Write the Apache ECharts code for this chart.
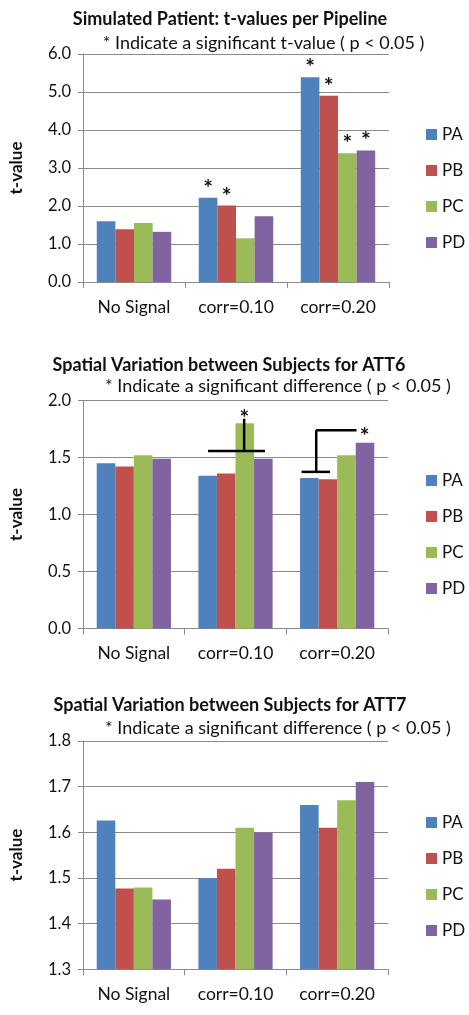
<!DOCTYPE html>
<html>
<head>
<meta charset="utf-8">
<script src="https://cdn.jsdelivr.net/npm/echarts@6/dist/echarts.min.js"></script>
<style>
html,body{margin:0;padding:0;background:#fff;}
#c{width:469px;height:1015px;}
</style>
</head>
<body>
<div id="c"></div>
<script>
const categories = ['No Signal', 'corr=0.10', 'corr=0.20'];
const pipelines = ['PA', 'PB', 'PC', 'PD'];
const colors = ['#4F81BD', '#C0504D', '#9BBB59', '#8064A2'];

// Chart 1: Simulated Patient t-values
const c1PA = [1.60, 2.22, 5.39];
const c1PB = [1.39, 2.01, 4.90];
const c1PC = [1.55, 1.15, 3.39];
const c1PD = [1.32, 1.73, 3.46];
// significance flags (star above bar)
const c1SigPA = [0, 1, 1];
const c1SigPB = [0, 1, 1];
const c1SigPC = [0, 0, 1];
const c1SigPD = [0, 0, 1];
const c1Ticks = ['0.0', '1.0', '2.0', '3.0', '4.0', '5.0', '6.0'];

// Chart 2: ATT6
const c2PA = [1.45, 1.34, 1.32];
const c2PB = [1.42, 1.36, 1.31];
const c2PC = [1.52, 1.80, 1.52];
const c2PD = [1.49, 1.49, 1.63];
const c2Ticks = ['0.0', '0.5', '1.0', '1.5', '2.0'];
// significance bracket segments: [category, offset1, value1, offset2, value2]
const c2Segments = [
  [1, -0.27, 1.556, 0.29, 1.556],
  [1, 0.085, 1.556, 0.085, 1.84],
  [2, -0.206, 1.374, -0.206, 1.74],
  [2, -0.206, 1.74, 0.19, 1.74],
  [2, -0.35, 1.374, -0.07, 1.374]
];
// significance stars: [category, offset, value]
const c2Stars = [
  [1, 0.087, 1.885],
  [2, 0.27, 1.725]
];

// Chart 3: ATT7
const c3PA = [1.626, 1.50, 1.66];
const c3PB = [1.477, 1.52, 1.61];
const c3PC = [1.479, 1.61, 1.67];
const c3PD = [1.453, 1.60, 1.71];
const c3Ticks = ['1.3', '1.4', '1.5', '1.6', '1.7', '1.8'];

const FONT = 'Lato, "Open Sans", sans-serif';
const GRID_COLOR = '#8a8a8a';

const chart = echarts.init(document.getElementById('c'), null, {renderer: 'canvas'});

const grids = [
  {left: 79, width: 310, top: 54, height: 228},
  {left: 78, width: 310, top: 400.5, height: 228},
  {left: 80, width: 308, top: 741, height: 228.3}
];
const yRanges = [
  {min: 0, max: 6, interval: 1},
  {min: 0, max: 2, interval: 0.5},
  {min: 13, max: 18, interval: 1, scale: 0.1}
];

function xAxisFor(i) {
  return {
    type: 'category', gridIndex: i, data: categories,
    axisLine: {lineStyle: {color: GRID_COLOR, width: 1}},
    axisTick: {show: true, length: 6, lineStyle: {color: GRID_COLOR}},
    axisLabel: {color: '#111', fontFamily: FONT, fontSize: 17.5, margin: 16}
  };
}
function yAxisFor(i) {
  const r = yRanges[i];
  return {
    type: 'value', gridIndex: i, min: r.min, max: r.max, interval: r.interval,
    name: 't-value', nameLocation: 'middle', nameGap: 58, nameRotate: 90,
    nameTextStyle: {color: '#111', fontFamily: FONT, fontSize: 17, fontWeight: 'bold'},
    axisLine: {show: true, lineStyle: {color: GRID_COLOR, width: 1}},
    axisTick: {show: true, length: 5, lineStyle: {color: GRID_COLOR}},
    splitLine: {show: true, lineStyle: {color: GRID_COLOR, width: 1}},
    axisLabel: {
      color: '#111', fontFamily: FONT, fontSize: 16.5, margin: 12,
      formatter: v => r.scale ? (v * r.scale).toFixed(1) : v.toFixed(1)
    }
  };
}

const c1Data = [c1PA, c1PB, c1PC, c1PD];
const c1Sig = [c1SigPA, c1SigPB, c1SigPC, c1SigPD];
const c2Data = [c2PA, c2PB, c2PC, c2PD];
const c3Data = [c3PA, c3PB, c3PC, c3PD];

const series = [];
pipelines.forEach((name, k) => {
  series.push({
    type: 'bar', name, xAxisIndex: 0, yAxisIndex: 0, data: c1Data[k],
    itemStyle: {color: colors[k]}, barGap: '0%', barCategoryGap: '27%',
    label: {
      show: true, position: 'top', distance: -2, color: '#111',
      fontFamily: FONT, fontSize: 23, fontWeight: 'bold',
      formatter: p => c1Sig[k][p.dataIndex] ? '*' : ''
    }
  });
});
pipelines.forEach((name, k) => {
  series.push({
    type: 'bar', name, xAxisIndex: 1, yAxisIndex: 1, data: c2Data[k],
    itemStyle: {color: colors[k]}, barGap: '0%', barCategoryGap: '27%'
  });
});
pipelines.forEach((name, k) => {
  series.push({
    type: 'bar', name, xAxisIndex: 2, yAxisIndex: 2, data: c3Data[k].map(v => v * 10),
    itemStyle: {color: colors[k]}, barGap: '0%', barCategoryGap: '27%'
  });
});
// bracket lines
series.push({
  type: 'custom', xAxisIndex: 1, yAxisIndex: 1, z: 10, silent: true,
  data: c2Segments,
  renderItem: function (params, api) {
    const cat = api.value(0);
    const bw = api.size([1, 0])[0];
    const p1 = api.coord([cat, api.value(2)]);
    const p2 = api.coord([cat, api.value(4)]);
    return {
      type: 'line',
      shape: {x1: p1[0] + api.value(1) * bw, y1: p1[1], x2: p2[0] + api.value(3) * bw, y2: p2[1]},
      style: {stroke: '#000', lineWidth: 2.5}
    };
  }
});
series.push({
  type: 'custom', xAxisIndex: 1, yAxisIndex: 1, z: 11, silent: true,
  data: c2Stars,
  renderItem: function (params, api) {
    const cat = api.value(0);
    const bw = api.size([1, 0])[0];
    const p = api.coord([cat, api.value(2)]);
    return {
      type: 'text',
      x: p[0] + api.value(1) * bw, y: p[1] + 5,
      style: {text: '*', fill: '#111', font: 'bold 23px ' + FONT, textAlign: 'center', textVerticalAlign: 'middle'}
    };
  }
});

function legendFor(top) {
  return {
    orient: 'vertical', left: 421, top: top, itemWidth: 11, itemHeight: 11, itemGap: 19,
    icon: 'rect', selectedMode: false, data: pipelines,
    textStyle: {color: '#111', fontFamily: FONT, fontSize: 17, lineHeight: 16, padding: [0, 0, 0, 0]}
  };
}

function titleAt(text, x, yc, bold) {
  return {
    text, left: x, top: yc - 10, textAlign: 'center', padding: 0,
    textStyle: {color: '#111', fontFamily: FONT, fontSize: 18, fontWeight: bold ? 'bold' : 'normal', lineHeight: 20}
  };
}

chart.setOption({
  animation: false,
  color: colors,
  title: [
    titleAt('Simulated Patient: t-values per Pipeline', 230, 19, true),
    titleAt('* Indicate a significant t-value ( p < 0.05 )', 263.5, 43, false),
    titleAt('Spatial Variation between Subjects for ATT6', 229, 365, true),
    titleAt('* Indicate a significant difference ( p < 0.05 )', 278, 386, false),
    titleAt('Spatial Variation between Subjects for ATT7', 230, 705, true),
    titleAt('* Indicate a significant difference ( p < 0.05 )', 278, 728, false)
  ],
  legend: [legendFor(121), legendFor(467), legendFor(809)],
  grid: grids,
  xAxis: [xAxisFor(0), xAxisFor(1), xAxisFor(2)],
  yAxis: [yAxisFor(0), yAxisFor(1), yAxisFor(2)],
  series
});
</script>
</body>
</html>
